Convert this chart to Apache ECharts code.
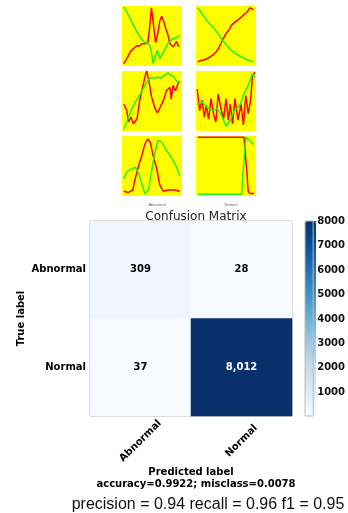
<!DOCTYPE html>
<html>
<head>
<meta charset="utf-8">
<script src="https://cdn.jsdelivr.net/npm/echarts@6/dist/echarts.min.js"></script>
<style>
  html, body { margin: 0; padding: 0; background: #fff; }
  #chart { width: 348px; height: 513px; }
</style>
</head>
<body>
<div id="chart"></div>
<script>
// small signal plots, [x, y] normalised
const p1Red = [[0.03,0.04],[0.06,0.06],[0.09,0.14],[0.11,0.15],[0.14,0.24],[0.16,0.26],[0.2,0.3],[0.25,0.34],[0.29,0.33],[0.33,0.37],[0.38,0.37],[0.43,0.39],[0.47,0.73],[0.49,0.97],[0.52,0.73],[0.56,0.39],[0.6,0.56],[0.63,0.75],[0.66,0.83],[0.7,0.73],[0.73,0.62],[0.76,0.54],[0.8,0.37],[0.85,0.32],[0.88,0.36],[0.91,0.41],[0.94,0.33],[0.96,0.34]];
const p1Green = [[0.03,0.98],[0.08,0.9],[0.14,0.78],[0.2,0.66],[0.25,0.57],[0.3,0.48],[0.36,0.41],[0.44,0.37],[0.47,0.33],[0.49,0.23],[0.52,0.04],[0.56,0.18],[0.59,0.26],[0.63,0.12],[0.69,0.23],[0.76,0.37],[0.85,0.46],[0.9,0.47],[0.96,0.51]];
const p2Red = [[0.03,0.07],[0.08,0.09],[0.13,0.1],[0.18,0.12],[0.23,0.15],[0.28,0.18],[0.33,0.23],[0.38,0.3],[0.44,0.43],[0.5,0.54],[0.55,0.6],[0.59,0.68],[0.65,0.73],[0.7,0.77],[0.76,0.82],[0.8,0.86],[0.85,0.9],[0.9,0.97],[0.93,0.95],[0.96,0.94]];
const p2Green = [[0.03,0.97],[0.1,0.87],[0.18,0.76],[0.25,0.68],[0.33,0.59],[0.4,0.49],[0.44,0.43],[0.5,0.36],[0.59,0.26],[0.67,0.2],[0.76,0.15],[0.86,0.1],[0.96,0.07]];
const p3Red = [[0.03,0.45],[0.08,0.34],[0.11,0.15],[0.15,0.23],[0.19,0.12],[0.25,0.2],[0.29,0.48],[0.33,0.67],[0.38,0.89],[0.41,1.0],[0.45,0.83],[0.49,0.58],[0.55,0.38],[0.59,0.3],[0.63,0.38],[0.69,0.51],[0.74,0.67],[0.8,0.73],[0.82,0.53],[0.85,0.76],[0.89,0.67],[0.93,0.78],[0.96,0.83]];
const p3Green = [[0.03,0.03],[0.07,0.12],[0.11,0.23],[0.16,0.36],[0.22,0.48],[0.27,0.55],[0.33,0.67],[0.37,0.73],[0.41,0.81],[0.45,0.86],[0.49,0.89],[0.55,0.88],[0.6,0.9],[0.65,0.88],[0.71,0.93],[0.77,0.97],[0.81,0.93],[0.85,0.92],[0.89,0.86],[0.93,0.81],[0.96,0.83]];
const p4Red = [[0.02,0.7],[0.06,0.34],[0.1,0.51],[0.14,0.23],[0.17,0.43],[0.21,0.2],[0.25,0.54],[0.29,0.29],[0.33,0.15],[0.37,0.62],[0.41,0.4],[0.46,0.2],[0.5,0.54],[0.54,0.18],[0.57,0.45],[0.61,0.12],[0.65,0.54],[0.7,0.18],[0.75,0.45],[0.79,0.1],[0.83,0.59],[0.87,0.29],[0.91,0.51],[0.94,0.9],[0.98,0.98]];
const p4Green = [[0.02,0.45],[0.1,0.48],[0.18,0.4],[0.27,0.34],[0.36,0.37],[0.44,0.23],[0.5,0.08],[0.57,0.18],[0.64,0.34],[0.73,0.43],[0.8,0.62],[0.87,0.76],[0.94,0.95],[0.98,0.89]];
const p5Red = [[0.03,0.08],[0.11,0.06],[0.18,0.1],[0.22,0.29],[0.27,0.48],[0.33,0.67],[0.38,0.86],[0.43,0.95],[0.47,0.9],[0.52,0.67],[0.58,0.45],[0.63,0.18],[0.69,0.08],[0.77,0.1],[0.88,0.1],[0.96,0.08]];
const p5Green = [[0.03,0.29],[0.08,0.4],[0.14,0.44],[0.22,0.48],[0.27,0.4],[0.33,0.2],[0.38,0.04],[0.44,0.1],[0.49,0.4],[0.55,0.73],[0.6,0.93],[0.66,0.9],[0.74,0.76],[0.82,0.65],[0.91,0.48],[0.96,0.34]];
const p6Red = [[0.03,0.98],[0.8,0.98],[0.84,0.5],[0.87,0.08],[0.9,0.04],[0.97,0.04]];
const p6Green = [[0.03,0.03],[0.76,0.03],[0.8,0.6],[0.83,0.98],[0.88,0.94],[0.96,0.86]];

// confusion matrix
const classes = ['Abnormal', 'Normal'];
const cm = [[309, 28], [37, 8012]];
const cbTicks = [1000, 2000, 3000, 4000, 5000, 6000, 7000, 8000];
const blues = ['#f7fbff', '#deebf7', '#c6dbef', '#9ecae1', '#6baed6', '#4292c6', '#2171b5', '#08519c', '#08306b'];

const chart = echarts.init(document.getElementById('chart'));

const plots = [[p1Red, p1Green], [p2Red, p2Green], [p3Red, p3Green], [p4Red, p4Green], [p5Red, p5Green], [p6Red, p6Green]];
const grids = [], xAxes = [], yAxes = [], series = [];
plots.forEach((p, i) => {
  const col = i % 2, row = Math.floor(i / 2);
  grids.push({ left: col ? 196 : 122, top: 6 + row * 65, width: 60, height: 60, show: true, backgroundColor: '#ffff00', borderWidth: 0 });
  xAxes.push({ gridIndex: i, type: 'value', min: 0, max: 1, show: false });
  yAxes.push({ gridIndex: i, type: 'value', min: 0, max: 1, show: false });
  series.push({ type: 'line', xAxisIndex: i, yAxisIndex: i, data: p[0], symbol: 'none', lineStyle: { color: '#ff0000', width: 1.5 } });
  series.push({ type: 'line', xAxisIndex: i, yAxisIndex: i, data: p[1], symbol: 'none', lineStyle: { color: '#22ee22', width: 1.5 } });
});

// heatmap grid
const maxV = Math.max(...cm.flat()), minV = Math.min(...cm.flat());
const hmData = [];
cm.forEach((row, r) => row.forEach((v, c) => {
  hmData.push({ value: [c, r, v], label: { color: v > maxV / 2 ? '#fff' : '#000' } });
}));
grids.push({ left: 90, top: 221, width: 202, height: 195, show: true, borderColor: '#aaa', borderWidth: 1 });
xAxes.push({
  gridIndex: 6, type: 'category', data: classes,
  axisLine: { show: false }, splitLine: { show: false },
  axisTick: { alignWithLabel: true, length: 3, lineStyle: { color: '#555' } },
  axisLabel: { rotate: 45, align: 'center', verticalAlign: 'middle', margin: 25, fontFamily: 'DejaVu Sans', fontWeight: 'bold', fontSize: 10, color: '#000' },
  name: 'Predicted label', nameLocation: 'middle', nameGap: 51,
  nameTextStyle: { fontFamily: 'DejaVu Sans', fontWeight: 'bold', fontSize: 10, color: '#000' }
});
yAxes.push({
  gridIndex: 6, type: 'category', data: classes, inverse: true,
  axisLine: { show: false }, splitLine: { show: false },
  axisTick: { alignWithLabel: true, length: 3, lineStyle: { color: '#555' } },
  axisLabel: { margin: 4, fontFamily: 'DejaVu Sans', fontWeight: 'bold', fontSize: 10, color: '#000' },
  name: 'True label', nameLocation: 'middle', nameGap: 64, nameRotate: 90, nameMoveOverlap: false,
  nameTextStyle: { fontFamily: 'DejaVu Sans', fontWeight: 'bold', fontSize: 10, color: '#000' }
});
series.push({
  type: 'heatmap', xAxisIndex: 6, yAxisIndex: 6, data: hmData,
  label: { show: true, fontFamily: 'DejaVu Sans', fontWeight: 'bold', fontSize: 10, formatter: p => p.value[2].toLocaleString('en-US') },
  emphasis: { disabled: true }
});

// colorbar axis (the gradient itself is drawn by the visualMap)
grids.push({ left: 305, top: 221, width: 11, height: 195, show: true, borderColor: '#bbb', borderWidth: 1, z: 5 });
xAxes.push({ gridIndex: 7, type: 'category', data: ['cb'], show: false });
yAxes.push({
  gridIndex: 7, type: 'value', min: minV, max: maxV, position: 'right',
  splitLine: { show: false }, axisLine: { show: false },
  axisTick: { show: true, customValues: cbTicks, length: 3, lineStyle: { color: '#444' } },
  axisLabel: { customValues: cbTicks, margin: 4, formatter: v => String(v), fontFamily: 'DejaVu Sans', fontWeight: 'bold', fontSize: 10, color: '#111' }
});

chart.setOption({
  animation: false,
  title: [
    { text: 'Abnormal', left: 152, top: 198, textAlign: 'center', textStyle: { fontSize: 4, fontWeight: 'normal', color: '#666' } },
    { text: 'Normal', left: 226, top: 198, textAlign: 'center', textStyle: { fontSize: 4, fontWeight: 'normal', color: '#666' } },
    { text: 'Confusion Matrix', left: 191, top: 206, textAlign: 'center', textStyle: { fontFamily: 'DejaVu Sans', fontSize: 12, fontWeight: 'normal', color: '#222' } },
    { text: 'accuracy=0.9922; misclass=0.0078', left: 191, top: 474, textAlign: 'center', textStyle: { fontFamily: 'DejaVu Sans', fontSize: 10, fontWeight: 'bold', color: '#000' } },
    { text: 'precision = 0.94 recall = 0.96 f1 = 0.95', left: 203, top: 492, textAlign: 'center', textStyle: { fontFamily: 'Liberation Sans', fontSize: 16, fontWeight: 'normal', color: '#111' } }
  ],
  grid: grids,
  xAxis: xAxes,
  yAxis: yAxes,
  visualMap: {
    show: true, type: 'continuous', seriesIndex: 12, min: minV, max: maxV,
    left: 305, top: 221, padding: 0, itemWidth: 11, itemHeight: 195,
    calculable: false, showLabel: false, text: null, hoverLink: false,
    inRange: { color: blues }
  },
  series: series
});
</script>
</body>
</html>
